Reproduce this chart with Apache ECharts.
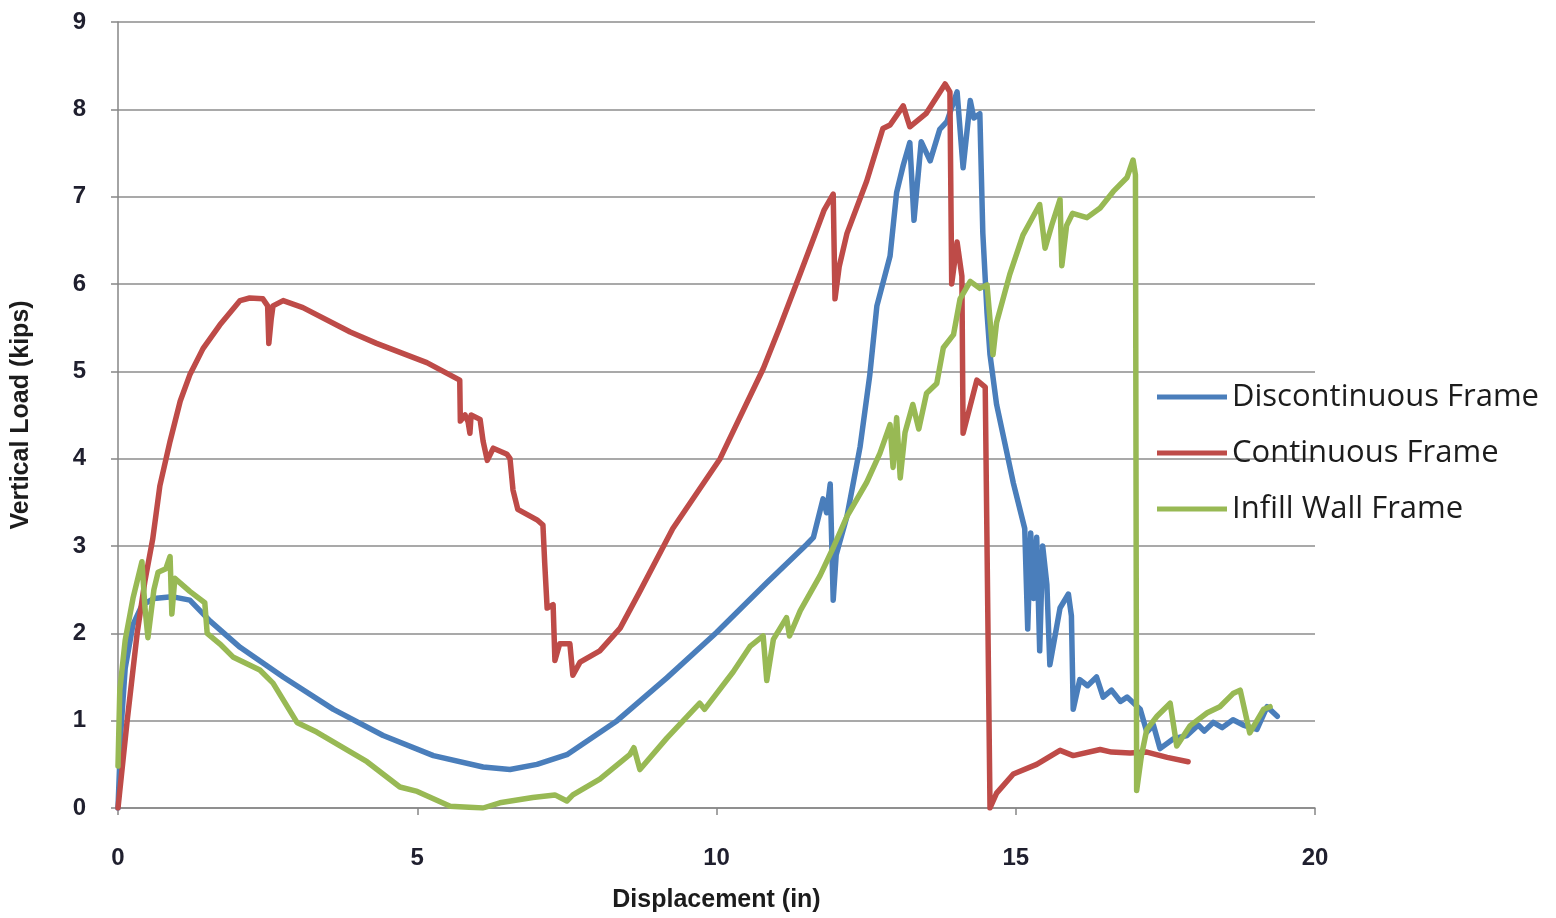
<!DOCTYPE html>
<html>
<head>
<meta charset="utf-8">
<script src="https://cdn.jsdelivr.net/npm/echarts@6/dist/echarts.min.js"></script>
<style>
  html, body { margin: 0; padding: 0; background: #fff; }
  #chart { width: 1556px; height: 918px; }
</style>
</head>
<body>
<div id="chart"></div>
<script>
var seriesNames = ["Discontinuous Frame", "Continuous Frame", "Infill Wall Frame"];
var seriesColors = ["#4a7ebb", "#be4b48", "#98b954"];

// [displacement (in), vertical load (kips)]
var discontinuousPts = [
  [0, 0], [0.05, 0.9], [0.12, 1.6], [0.25, 2.1], [0.4, 2.32], [0.6, 2.4], [0.9, 2.42],
  [1.2, 2.38], [1.54, 2.14], [2.04, 1.84], [2.76, 1.5], [3.6, 1.13], [4.43, 0.83],
  [5.27, 0.6], [6.1, 0.47], [6.55, 0.44], [7.0, 0.5], [7.5, 0.61], [8.34, 1.0],
  [9.17, 1.49], [10.0, 2.01], [10.84, 2.58], [11.51, 3.02], [11.62, 3.1], [11.78, 3.54],
  [11.84, 3.38], [11.9, 3.71], [11.95, 2.38], [12.0, 2.9], [12.18, 3.34], [12.4, 4.14],
  [12.56, 4.95], [12.68, 5.75], [12.9, 6.32], [13.01, 7.05], [13.12, 7.36], [13.23, 7.62],
  [13.3, 6.73], [13.42, 7.63], [13.57, 7.41], [13.73, 7.77], [13.85, 7.86], [14.02, 8.2],
  [14.12, 7.33], [14.24, 8.1], [14.3, 7.9], [14.4, 7.95], [14.45, 6.58], [14.52, 5.67],
  [14.57, 5.19], [14.68, 4.62], [14.96, 3.72], [15.15, 3.2], [15.2, 2.05], [15.25, 3.15],
  [15.3, 2.4], [15.35, 3.1], [15.4, 1.8], [15.45, 3.0], [15.52, 2.56], [15.57, 1.64],
  [15.74, 2.29], [15.88, 2.45], [15.93, 2.2], [15.96, 1.13], [16.07, 1.47], [16.2, 1.4],
  [16.35, 1.5], [16.46, 1.27], [16.6, 1.35], [16.75, 1.22], [16.86, 1.27], [17.08, 1.13],
  [17.19, 0.87], [17.3, 0.95], [17.41, 0.68], [17.63, 0.79], [17.86, 0.83], [18.05, 0.95],
  [18.15, 0.88], [18.3, 0.98], [18.45, 0.92], [18.63, 1.01], [18.8, 0.95], [19.03, 0.9],
  [19.2, 1.16], [19.37, 1.05]
];

var continuousPts = [
  [0, 0], [0.15, 0.98], [0.32, 2.0], [0.45, 2.6], [0.58, 3.08], [0.7, 3.69], [0.87, 4.2],
  [1.04, 4.66], [1.2, 4.96], [1.42, 5.26], [1.7, 5.53], [2.04, 5.81], [2.2, 5.84],
  [2.42, 5.83], [2.5, 5.75], [2.52, 5.32], [2.56, 5.6], [2.59, 5.75], [2.76, 5.81],
  [3.09, 5.73], [3.88, 5.45], [4.32, 5.32], [5.16, 5.1], [5.71, 4.9], [5.72, 4.43],
  [5.8, 4.5], [5.85, 4.42], [5.88, 4.29], [5.9, 4.5], [6.05, 4.45], [6.1, 4.2], [6.17, 3.98],
  [6.27, 4.12], [6.5, 4.05], [6.55, 4.0], [6.6, 3.64], [6.68, 3.42], [7.0, 3.3], [7.1, 3.24],
  [7.13, 2.8], [7.17, 2.29], [7.27, 2.33], [7.3, 1.69], [7.38, 1.88], [7.55, 1.88],
  [7.6, 1.52], [7.72, 1.67], [8.05, 1.8], [8.39, 2.06], [8.72, 2.48], [9.27, 3.2],
  [10.06, 4.0], [10.78, 5.03], [11.06, 5.51], [11.4, 6.12], [11.61, 6.5], [11.8, 6.85],
  [11.95, 7.03], [11.98, 5.83], [12.05, 6.2], [12.18, 6.58], [12.51, 7.18], [12.78, 7.78],
  [12.9, 7.82], [13.12, 8.04], [13.23, 7.8], [13.5, 7.95], [13.82, 8.29], [13.9, 8.2],
  [13.93, 6.0], [14.02, 6.48], [14.1, 6.09], [14.12, 4.29], [14.35, 4.9], [14.49, 4.82],
  [14.57, 0.0], [14.68, 0.17], [14.96, 0.39], [15.35, 0.5], [15.74, 0.66], [15.96, 0.6],
  [16.41, 0.67], [16.6, 0.64], [16.91, 0.63], [17.19, 0.64], [17.53, 0.58], [17.88, 0.53]
];

var infillPts = [
  [0, 0.48], [0.03, 1.35], [0.12, 1.92], [0.25, 2.4], [0.4, 2.82], [0.45, 2.3], [0.5, 1.95],
  [0.6, 2.5], [0.67, 2.7], [0.8, 2.74], [0.87, 2.88], [0.9, 2.22], [0.95, 2.63], [1.2, 2.48],
  [1.45, 2.35], [1.49, 2.0], [1.7, 1.88], [1.92, 1.73], [2.37, 1.58], [2.59, 1.43],
  [2.99, 0.98], [3.32, 0.87], [4.16, 0.53], [4.71, 0.24], [5.0, 0.19], [5.55, 0.02],
  [6.1, 0.0], [6.38, 0.06], [6.93, 0.12], [7.3, 0.15], [7.5, 0.08], [7.6, 0.15],
  [8.05, 0.33], [8.55, 0.61], [8.62, 0.69], [8.72, 0.44], [9.17, 0.8], [9.72, 1.2],
  [9.8, 1.13], [10.28, 1.56], [10.56, 1.85], [10.78, 1.97], [10.84, 1.46], [10.95, 1.93],
  [11.17, 2.18], [11.22, 1.97], [11.4, 2.26], [11.73, 2.66], [11.95, 2.98], [12.18, 3.34],
  [12.51, 3.73], [12.73, 4.06], [12.9, 4.39], [12.95, 3.9], [13.01, 4.47], [13.07, 3.78],
  [13.15, 4.3], [13.28, 4.62], [13.38, 4.34], [13.51, 4.75], [13.68, 4.86], [13.79, 5.27],
  [13.96, 5.42], [14.07, 5.83], [14.24, 6.03], [14.4, 5.95], [14.52, 5.99], [14.62, 5.19],
  [14.68, 5.56], [14.9, 6.11], [15.12, 6.56], [15.4, 6.91], [15.49, 6.41], [15.6, 6.67],
  [15.74, 6.97], [15.77, 6.21], [15.85, 6.67], [15.95, 6.81], [16.19, 6.76], [16.41, 6.87],
  [16.63, 7.06], [16.86, 7.22], [16.96, 7.42], [17.0, 7.25], [17.02, 0.2], [17.1, 0.6],
  [17.19, 0.9], [17.36, 1.05], [17.58, 1.2], [17.69, 0.71], [17.91, 0.94], [18.2, 1.09],
  [18.41, 1.16], [18.63, 1.31], [18.75, 1.35], [18.91, 0.86], [19.14, 1.13], [19.25, 1.16]
];

var seriesData = [discontinuousPts, continuousPts, infillPts];

var chart = echarts.init(document.getElementById("chart"), null, { renderer: "canvas" });

var labelStyle = {
  fontFamily: "Liberation Sans",
  fontWeight: "bold",
  fontSize: 24,
  color: "#1f1f2e"
};

var nameStyle = {
  fontFamily: "Liberation Sans",
  fontWeight: "bold",
  fontSize: 25,
  color: "#1c1c1c"
};

var option = {
  animation: false,
  backgroundColor: "#fff",
  grid: { left: 118, right: 241, top: 22, bottom: 98, containLabel: false },
  legend: {
    orient: "vertical",
    left: 1152,
    top: 376,
    icon: "rect",
    itemWidth: 70,
    itemHeight: 5,
    itemGap: 24,
    data: seriesNames,
    textStyle: {
      fontFamily: "Open Sans",
      fontSize: 31,
      lineHeight: 32,
      color: "#1c1c1c",
      padding: [0, 0, 0, 0]
    }
  },
  xAxis: {
    type: "value",
    min: 0,
    max: 20,
    interval: 5,
    name: "Displacement (in)",
    nameLocation: "middle",
    nameGap: 80,
    nameTextStyle: nameStyle,
    axisLine: { show: true, lineStyle: { color: "#868686", width: 1.5 } },
    axisTick: { show: true, length: 7, lineStyle: { color: "#868686", width: 1.5 } },
    axisLabel: Object.assign({ margin: 38 }, labelStyle),
    splitLine: { show: false }
  },
  yAxis: {
    type: "value",
    min: 0,
    max: 9,
    interval: 1,
    name: "Vertical Load (kips)",
    nameLocation: "middle",
    nameGap: 84,
    nameRotate: 90,
    nameTextStyle: nameStyle,
    axisLine: { show: true, lineStyle: { color: "#868686", width: 1.5 } },
    axisTick: { show: true, length: 7, lineStyle: { color: "#868686", width: 1.5 } },
    axisLabel: Object.assign({ margin: 32 }, labelStyle),
    splitLine: { show: true, lineStyle: { color: "#8c8c8c", width: 1.5 } }
  },
  series: seriesNames.map(function (name, i) {
    return {
      name: name,
      type: "line",
      data: seriesData[i],
      showSymbol: false,
      symbol: "none",
      color: seriesColors[i],
      lineStyle: { width: 5.5, color: seriesColors[i], join: "round", cap: "round" },
      z: 2 + i
    };
  })
};

chart.setOption(option);
</script>
</body>
</html>
